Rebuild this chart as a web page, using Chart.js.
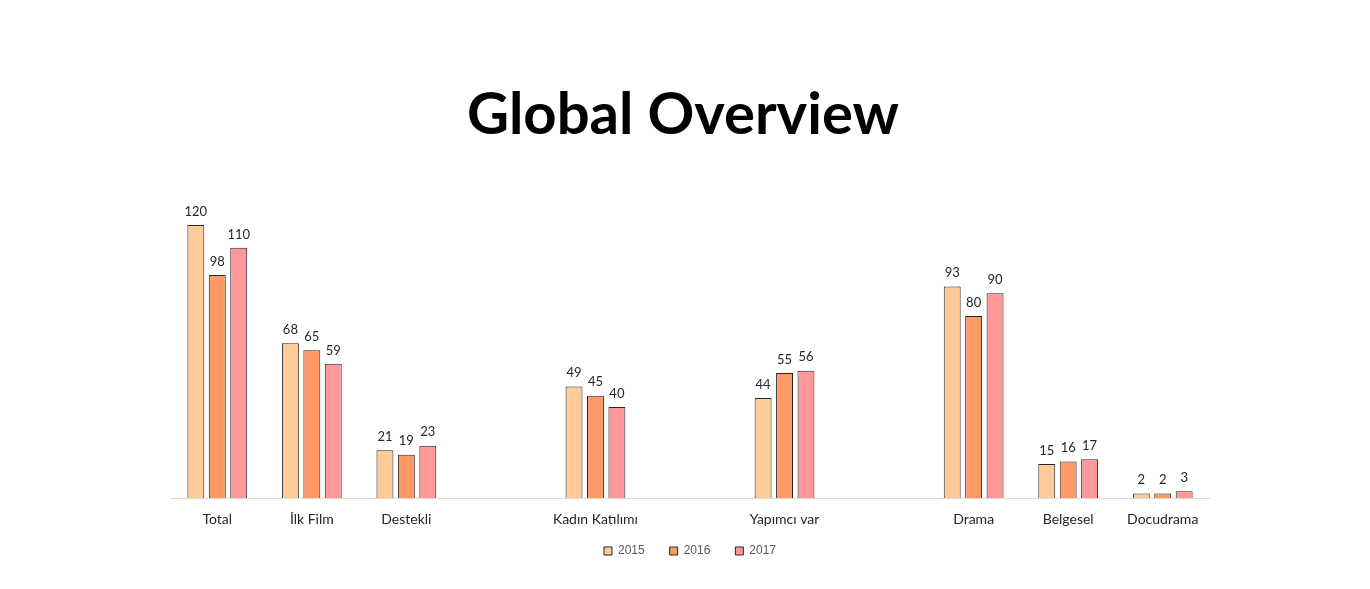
<!DOCTYPE html>
<html>
<head>
<meta charset="utf-8">
<script src="https://cdn.jsdelivr.net/npm/chart.js@4"></script>
<style>
	html, body { margin: 0; padding: 0; background: #fff; }
	.graphic { width: 1370px; height: 589px; }
</style>
</head>
<body>
<div class="graphic"><canvas class="graphic__canvas"></canvas></div>
<script>
	const CATEGORIES = ['Total', 'İlk Film', 'Destekli', '', 'Kadın Katılımı', '', 'Yapımcı var', '', 'Drama', 'Belgesel', 'Docudrama'];
	const YEARS = ['2015', '2016', '2017'];
	const VALUES_2015 = [120, 68, 21, null, 49, null, 44, null, 93, 15, 2];
	const VALUES_2016 = [98, 65, 19, null, 45, null, 55, null, 80, 16, 2];
	const VALUES_2017 = [110, 59, 23, null, 40, null, 56, null, 90, 17, 3];
	const COLORS = ['#FFCC99', '#FF9966', '#FF9999'];

	//Подписи значений над столбиками
	const valueLabels = {
		id: 'valueLabels',
		afterDatasetsDraw(chart) {
			let ctx = chart.ctx;
			ctx.save();
			ctx.font = '13px Lato';
			ctx.fillStyle = '#262626';
			ctx.textAlign = 'center';
			ctx.textBaseline = 'bottom';
			chart.data.datasets.forEach((dataset, index) => {
				chart.getDatasetMeta(index).data.forEach((bar, i) => {
					if (dataset.data[i] === null) {
						return;
					}
					ctx.fillText(dataset.data[i], bar.x, bar.y - 7);
				});
			});
			ctx.restore();
		}
	};

	//Подвинуть легенду ближе к оси
	const legendShift = {
		id: 'legendShift',
		afterLayout(chart) {
			let legend = chart.legend;
			legend.top -= 9;
			legend.bottom -= 9;
			legend.left += 7;
			legend.right += 7;
		}
	};

	let datasets = [VALUES_2015, VALUES_2016, VALUES_2017].map((values, index) => ({
		label: YEARS[index],
		data: values,
		backgroundColor: COLORS[index],
		borderColor: '#262626',
		borderWidth: 1,
		categoryPercentage: 0.68,
		barPercentage: 0.79
	}));

	new Chart(document.querySelector('.graphic__canvas'), {
		type: 'bar',
		data: {
			labels: CATEGORIES,
			datasets: datasets
		},
		options: {
			responsive: true,
			maintainAspectRatio: false,
			animation: false,
			layout: {
				padding: { left: 156, right: 160, top: 0, bottom: 13 }
			},
			scales: {
				x: {
					grid: { display: false, drawTicks: false },
					border: { display: true, color: '#d9d9d9', width: 1 },
					ticks: {
						padding: 13,
						color: '#262626',
						font: { family: 'Lato', size: 14 }
					},
					afterFit(scale) {
						scale.height = 31;
					}
				},
				y: {
					min: 0,
					max: 140,
					grid: { display: false },
					border: { display: false },
					ticks: { display: false },
					afterFit(scale) {
						scale.width = 14;
					}
				}
			},
			plugins: {
				title: {
					display: true,
					text: 'Global Overview',
					color: '#000',
					font: { family: 'Lato', size: 58, weight: 'bold' },
					padding: { top: 80, bottom: 30 }
				},
				legend: {
					position: 'bottom',
					labels: {
						boxWidth: 8,
						boxHeight: 8,
						padding: 25,
						color: '#595959',
						font: { family: 'Liberation Sans', size: 12 },
						generateLabels(chart) {
							return chart.data.datasets.map((dataset, index) => ({
								text: dataset.label,
								fillStyle: dataset.backgroundColor,
								strokeStyle: '#262626',
								lineWidth: 1,
								fontColor: '#595959',
								datasetIndex: index
							}));
						}
					}
				},
				tooltip: { enabled: false }
			}
		},
		plugins: [valueLabels, legendShift]
	});
</script>
</body>
</html>
